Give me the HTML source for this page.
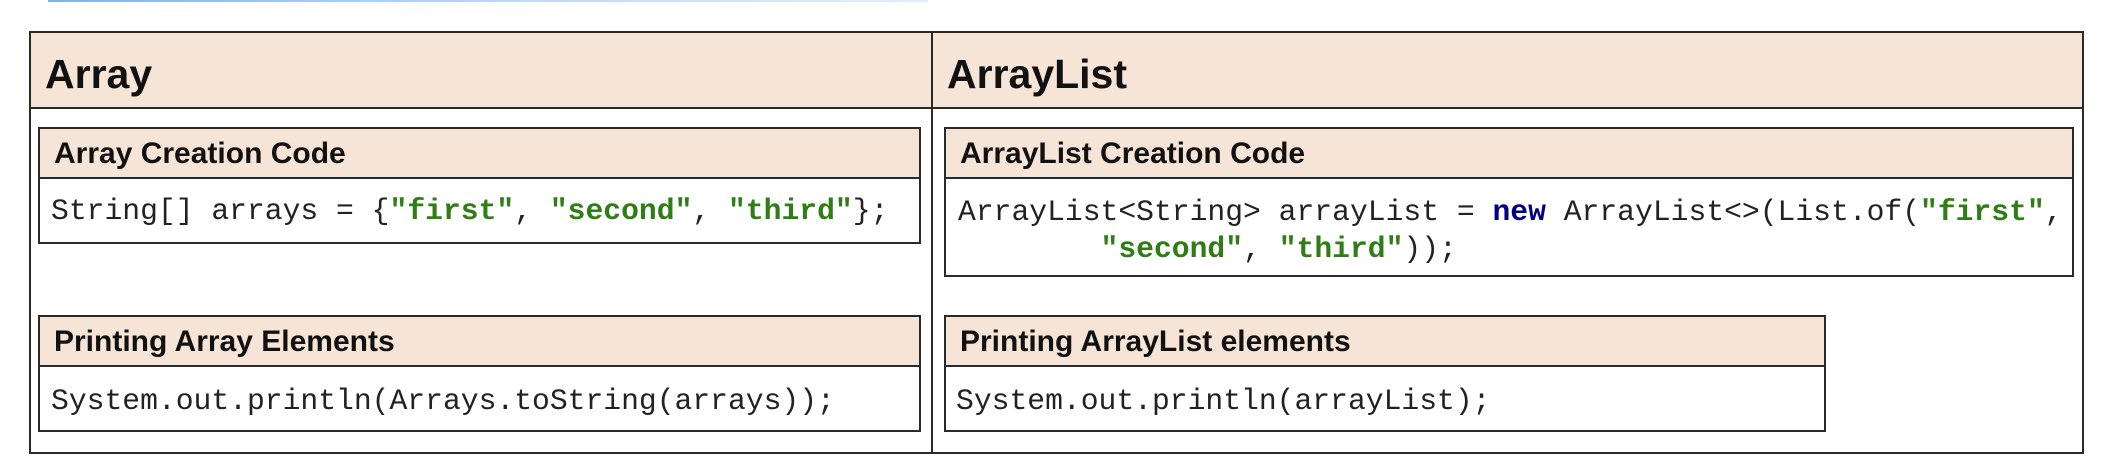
<!DOCTYPE html>
<html><head><meta charset="utf-8"><style>
body{margin:0;width:2108px;height:476px;background:#fff;position:relative;overflow:hidden;font-family:"Liberation Sans",sans-serif;}
.a{position:absolute;box-sizing:border-box;}
.b{border:2px solid #2a2a2a;}
.hd{background:#f6e4d6;}
.h1{font-weight:bold;font-size:41px;color:#111;}
.h2{font-weight:bold;font-size:30px;color:#111;}
.c{font-family:"Liberation Mono",monospace;font-size:29.7px;color:#222;white-space:pre;}
.s{color:#2f7d15;font-weight:bold;}
.k{color:#000080;font-weight:bold;}
</style></head><body>
<div class="a" style="left:48px;top:0;width:880px;height:2px;background:linear-gradient(90deg,#7fb2ee,#bcd7f5,#e2eefb);"></div>
<div class="a b" style="left:29px;top:31px;width:2055px;height:423px;"></div>
<div class="a hd" style="left:31px;top:33px;width:2051px;height:76px;border-bottom:2px solid #2a2a2a;"></div>
<div class="a" style="left:931px;top:33px;width:2px;height:419px;background:#2a2a2a;"></div>
<div class="a h1" style="left:45px;top:51px;">Array</div>
<div class="a h1" style="left:947px;top:51px;">ArrayList</div>

<div class="a b" style="left:38px;top:127px;width:883px;height:117px;"></div>
<div class="a hd" style="left:40px;top:129px;width:879px;height:50px;border-bottom:2px solid #2a2a2a;"></div>
<div class="a h2" style="left:54px;top:137px;">Array Creation Code</div>
<div class="a c" style="left:51px;top:194px;">String[] arrays = {<span class="s">"first"</span>, <span class="s">"second"</span>, <span class="s">"third"</span>};</div>

<div class="a b" style="left:38px;top:315px;width:883px;height:117px;"></div>
<div class="a hd" style="left:40px;top:317px;width:879px;height:50px;border-bottom:2px solid #2a2a2a;"></div>
<div class="a h2" style="left:54px;top:325px;">Printing Array Elements</div>
<div class="a c" style="left:51px;top:384px;">System.out.println(Arrays.toString(arrays));</div>

<div class="a b" style="left:944px;top:127px;width:1130px;height:150px;"></div>
<div class="a hd" style="left:946px;top:129px;width:1126px;height:50px;border-bottom:2px solid #2a2a2a;"></div>
<div class="a h2" style="left:960px;top:137px;">ArrayList Creation Code</div>
<div class="a c" style="left:958px;top:194px;line-height:37px;">ArrayList&lt;String&gt; arrayList = <span class="k">new</span> ArrayList&lt;&gt;(List.of(<span class="s">"first"</span>,
        <span class="s">"second"</span>, <span class="s">"third"</span>));</div>

<div class="a b" style="left:944px;top:315px;width:882px;height:117px;"></div>
<div class="a hd" style="left:946px;top:317px;width:878px;height:50px;border-bottom:2px solid #2a2a2a;"></div>
<div class="a h2" style="left:960px;top:325px;">Printing ArrayList elements</div>
<div class="a c" style="left:956px;top:384px;">System.out.println(arrayList);</div>
</body></html>
